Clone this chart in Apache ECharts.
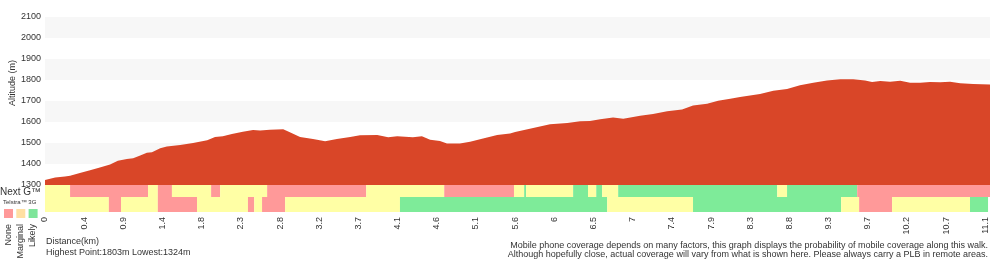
<!DOCTYPE html>
<html>
<head>
<meta charset="utf-8">
<script src="https://cdn.jsdelivr.net/npm/echarts@6/dist/echarts.min.js"></script>
<style>
  html, body { margin: 0; padding: 0; background: #fff; }
  #chart { width: 1000px; height: 260px; }
</style>
</head>
<body>
<div id="chart"></div>
<script>
// x positions are in label steps (one step = one distance label)
const tickLabels = ['0', '0.4', '0.9', '1.4', '1.8', '2.3', '2.8', '3.2', '3.7', '4.1', '4.6', '5.1', '5.6',
  '6', '6.5', '7', '7.4', '7.9', '8.3', '8.8', '9.3', '9.7', '10.2', '10.7', '11.1'];
const xEnd = 24.12;

const profilePos = [0, 0.26, 0.51, 0.64, 0.89, 1.15, 1.40, 1.66, 1.86, 2.09, 2.25, 2.43, 2.60, 2.73, 2.94, 3.11,
  3.45, 3.78, 4.14, 4.34, 4.54, 4.77, 5.05, 5.31, 5.49, 5.74, 6.08, 6.25, 6.51, 6.84, 7.15, 7.45, 7.79, 8.04,
  8.48, 8.76, 8.99, 9.39, 9.62, 9.83, 10.08, 10.26, 10.59, 10.85, 11.18, 11.54, 11.87, 12.00, 12.46, 12.89,
  13.33, 13.66, 13.91, 14.17, 14.50, 14.76, 14.94, 15.19, 15.52, 15.88, 16.26, 16.54, 16.90, 17.18, 17.49,
  17.74, 18.25, 18.59, 18.94, 19.27, 19.61, 19.96, 20.30, 20.63, 20.93, 21.11, 21.32, 21.57, 21.83, 22.08,
  22.34, 22.59, 22.85, 23.10, 23.36, 23.69, 24.12];
const profileElev = [1324, 1336, 1340, 1344, 1357, 1370, 1383, 1398, 1416, 1424, 1427, 1440, 1454, 1456, 1475, 1483,
  1490, 1500, 1513, 1529, 1532, 1543, 1554, 1562, 1559, 1563, 1565, 1551, 1529, 1519, 1508, 1519, 1529, 1537,
  1538, 1527, 1532, 1527, 1532, 1516, 1510, 1498, 1498, 1506, 1522, 1538, 1545, 1552, 1571, 1589,
  1595, 1603, 1605, 1613, 1621, 1616, 1621, 1630, 1638, 1651, 1660, 1679, 1687, 1701, 1711,
  1719, 1733, 1749, 1757, 1775, 1787, 1798, 1803, 1803, 1798, 1790, 1795, 1792, 1797, 1787,
  1787, 1790, 1789, 1792, 1784, 1781, 1778];

// coverage: [from, to, level]  level 0 = None, 1 = Marginal, 2 = Likely
const nextG = [[0, 0.64, 1], [0.64, 2.63, 0], [2.63, 2.88, 1], [2.88, 3.24, 0], [3.24, 4.24, 1], [4.24, 4.47, 0],
  [4.47, 5.67, 1], [5.67, 8.20, 0], [8.20, 10.19, 1], [10.19, 11.97, 0], [11.97, 12.23, 1], [12.23, 12.28, 2],
  [12.28, 13.48, 1], [13.48, 13.86, 2], [13.86, 14.07, 1], [14.07, 14.22, 2], [14.22, 14.63, 1],
  [14.63, 18.69, 2], [18.69, 18.94, 1], [18.94, 20.73, 2], [20.73, 24.12, 0]];
const telstra3G = [[0, 1.63, 1], [1.63, 1.94, 0], [1.94, 2.88, 1], [2.88, 3.88, 0], [3.88, 5.18, 1], [5.18, 5.34, 0],
  [5.34, 5.54, 1], [5.54, 6.13, 0], [6.13, 9.06, 1], [9.06, 14.35, 2], [14.35, 16.54, 1], [16.54, 20.32, 2],
  [20.32, 20.78, 1], [20.78, 21.62, 0], [21.62, 23.61, 1], [23.61, 24.07, 2]];

const levelNames = ['None', 'Marginal', 'Likely'];
const levelColors = ['#ff9999', '#ffffa5', '#7eeb99'];
const legendColors = ['#ff9999', '#ffe0a3', '#7ee59a'];

const chart = echarts.init(document.getElementById('chart'));
const font = 'Liberation Sans, Arial, sans-serif';

const renderBand = (params, api) => {
  const a = api.coord([api.value(0), 0]);
  const b = api.coord([api.value(1), 0]);
  const h = api.size([0, 1])[1];
  return {
    type: 'rect',
    shape: { x: a[0], y: a[1] - h / 2, width: b[0] - a[0], height: h },
    style: { fill: levelColors[api.value(2)] }
  };
};

const xAxisBase = (gridIndex, showLabels) => ({
  gridIndex: gridIndex,
  type: 'value',
  min: 0,
  max: xEnd,
  interval: 1,
  axisLine: { show: false },
  axisTick: { show: false },
  splitLine: { show: false },
  axisLabel: {
    show: showLabels,
    rotate: 90,
    margin: 5,
    fontSize: 9,
    fontFamily: font,
    color: '#333',
    formatter: v => (Number.isInteger(v) && tickLabels[v] !== undefined) ? tickLabels[v] : ''
  }
});

const legendGraphics = [];
levelNames.forEach((name, i) => {
  legendGraphics.push({
    type: 'rect',
    shape: { x: 4 + i * 12.3, y: 209, width: 9, height: 9 },
    style: { fill: legendColors[i] }
  });
  legendGraphics.push({
    type: 'text',
    x: 9 + i * 11.8,
    y: 224,
    rotation: Math.PI / 2,
    style: { text: name, fontSize: 9, fontFamily: font, fill: '#333', align: 'right', verticalAlign: 'middle' }
  });
});

chart.setOption({
  animation: false,
  grid: [
    { left: 45, right: 10, top: 17, height: 168 },
    { left: 45, right: 10, top: 185, height: 12 },
    { left: 45, right: 10, top: 197, height: 15 }
  ],
  xAxis: [xAxisBase(0, false), xAxisBase(1, false), xAxisBase(2, true)],
  yAxis: [
    {
      gridIndex: 0,
      type: 'value',
      min: 1300,
      max: 2100,
      interval: 100,
      axisLine: { show: false },
      axisTick: { show: false },
      splitLine: { show: false },
      splitArea: { show: true, areaStyle: { color: ['#ffffff', '#f7f7f7'] } },
      axisLabel: { fontSize: 9, fontFamily: font, color: '#333', margin: 4, formatter: v => String(v) }
    },
    { gridIndex: 1, type: 'category', data: ['Next G'], show: false },
    { gridIndex: 2, type: 'category', data: ['Telstra 3G'], show: false }
  ],
  series: [
    {
      type: 'line',
      xAxisIndex: 0,
      yAxisIndex: 0,
      data: profilePos.map((p, i) => [p, profileElev[i]]),
      showSymbol: false,
      lineStyle: { width: 0 },
      areaStyle: { color: '#d94628', opacity: 1, origin: 'start' }
    },
    {
      type: 'custom',
      name: 'Next G',
      xAxisIndex: 1,
      yAxisIndex: 1,
      renderItem: renderBand,
      encode: { x: [0, 1] },
      data: nextG
    },
    {
      type: 'custom',
      name: 'Telstra 3G',
      xAxisIndex: 2,
      yAxisIndex: 2,
      renderItem: renderBand,
      encode: { x: [0, 1] },
      data: telstra3G
    }
  ],
  graphic: [
    { type: 'text', x: 13, y: 83, rotation: Math.PI / 2, style: { text: 'Altitude (m)', fontSize: 9, fontFamily: font, fill: '#333', align: 'center', verticalAlign: 'middle' } },
    { type: 'text', x: 0, y: 192, style: { text: 'Next G™', fontSize: 10, fontFamily: font, fill: '#333', verticalAlign: 'middle' } },
    { type: 'text', x: 3, y: 202, style: { text: 'Telstra™ 3G', fontSize: 6, fontFamily: font, fill: '#333', verticalAlign: 'middle' } },
    ...legendGraphics,
    { type: 'text', x: 46, y: 242, style: { text: 'Distance(km)', fontSize: 9, fontFamily: font, fill: '#333', verticalAlign: 'middle' } },
    { type: 'text', x: 46, y: 253, style: { text: 'Highest Point:1803m Lowest:1324m', fontSize: 9, fontFamily: font, fill: '#333', verticalAlign: 'middle' } },
    { type: 'text', right: 12, y: 241, style: { text: 'Mobile phone coverage depends on many factors, this graph displays the probability of mobile coverage along this walk.', fontSize: 9, fontFamily: font, fill: '#333' } },
    { type: 'text', right: 12, y: 250, style: { text: 'Although hopefully close, actual coverage will vary from what is shown here. Please always carry a PLB in remote areas.', fontSize: 9, fontFamily: font, fill: '#333' } }
  ]
});
</script>
</body>
</html>
